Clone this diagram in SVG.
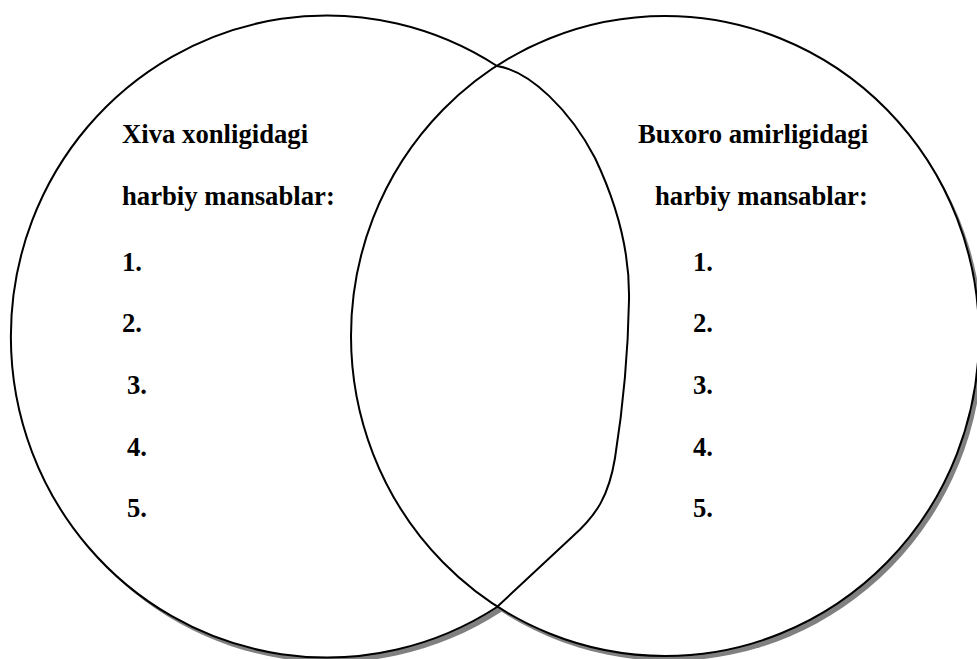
<svg xmlns="http://www.w3.org/2000/svg" width="977" height="659" viewBox="0 0 977 659">
<style>
.shadow{fill:#808080;stroke:none}
.fill{fill:#ffffff;stroke:none}
.line{fill:none;stroke:#000000;stroke-width:2}
.t{font-family:"Liberation Serif","Times New Roman",serif;font-weight:bold;font-size:26.7px;fill:#000000}
</style>
<defs>
<path id="leftShape" d="M497,607 A316,321 0 1,1 497,66 C530,71 570,110 595,158 C615,200 630,250 629,300 C628,360 621,420 615,458 C609,495 597,515 572,537 L497,607 Z"/>
<ellipse id="rightShape" cx="665" cy="336" rx="314" ry="320"/>
</defs>
<g id="shadows">
<use href="#leftShape" class="shadow" transform="translate(4,5)"/>
<use href="#rightShape" class="shadow" transform="translate(4,5)"/>
</g>
<g id="fills">
<use href="#leftShape" class="fill"/>
<use href="#rightShape" class="fill"/>
</g>
<g id="left-node">
<use href="#leftShape" class="line"/>
<text class="t" x="122" y="143">Xiva xonligidagi</text>
<text class="t" x="122" y="205">harbiy mansablar:</text>
<text class="t" x="122" y="271">1.</text>
<text class="t" x="122" y="332">2.</text>
<text class="t" x="127" y="394">3.</text>
<text class="t" x="127" y="456">4.</text>
<text class="t" x="127" y="517">5.</text>
</g>
<g id="right-node">
<use href="#rightShape" class="line"/>
<text class="t" x="638" y="143">Buxoro amirligidagi</text>
<text class="t" x="655" y="205">harbiy mansablar:</text>
<text class="t" x="693" y="271">1.</text>
<text class="t" x="693" y="332">2.</text>
<text class="t" x="693" y="394">3.</text>
<text class="t" x="693" y="456">4.</text>
<text class="t" x="693" y="517">5.</text>
</g>
<g id="connectors"></g>
</svg>
